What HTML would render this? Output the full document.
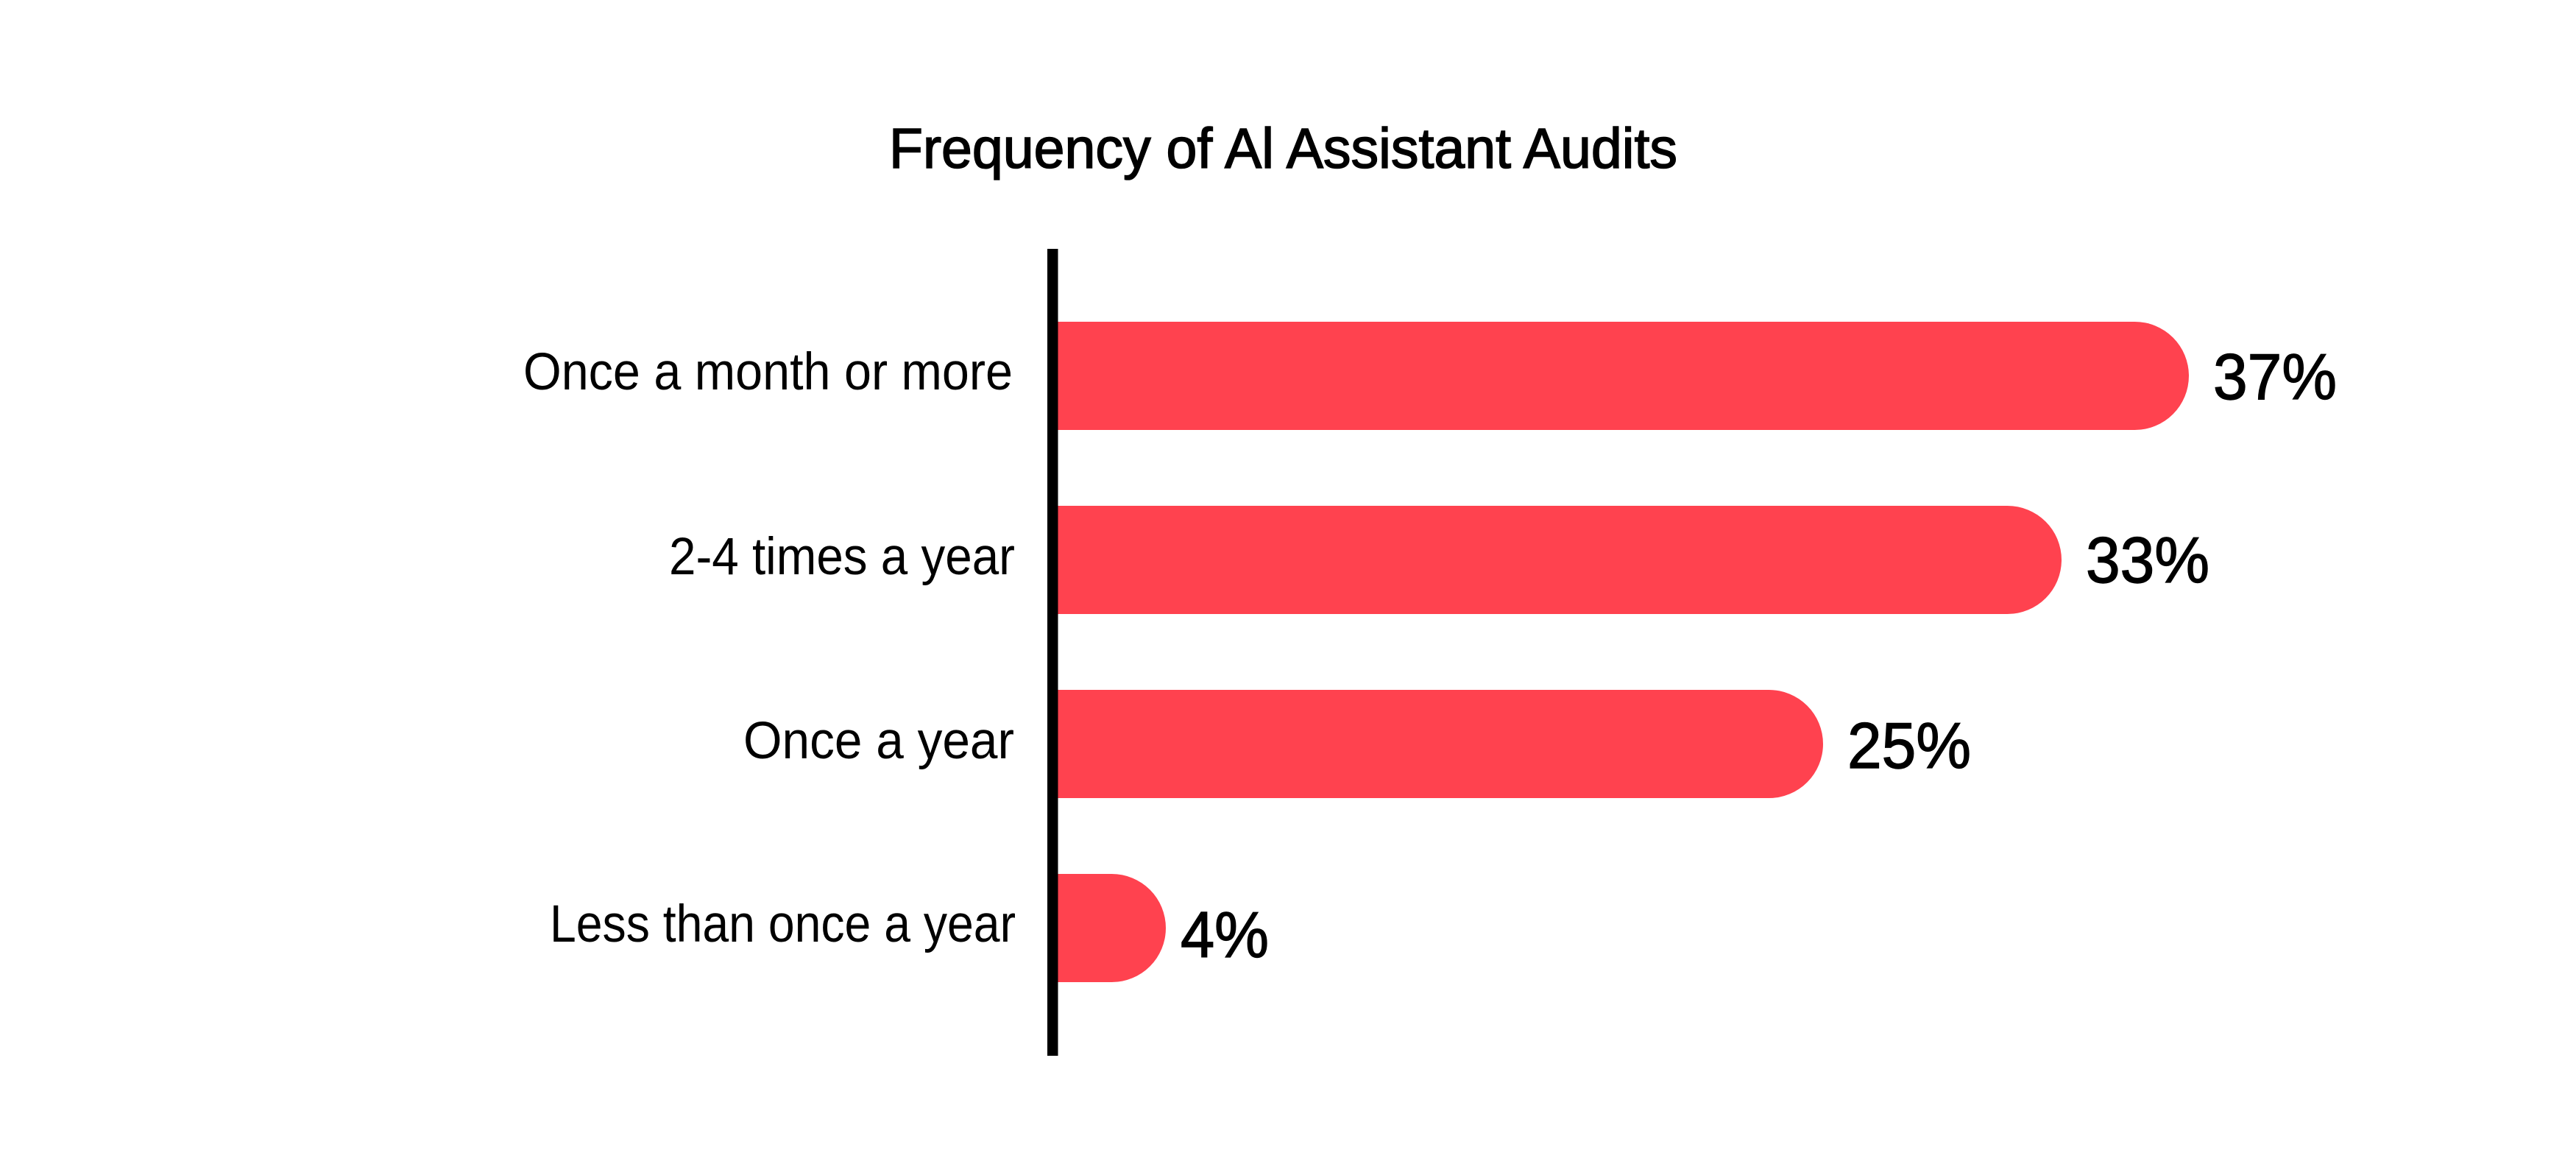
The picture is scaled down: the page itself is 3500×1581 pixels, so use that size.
<!DOCTYPE html>
<html>
<head>
<meta charset="utf-8">
<style>
  html, body { margin: 0; padding: 0; background: #ffffff; }
  body { width: 3500px; height: 1581px; overflow: hidden; }
  svg { display: block; }
  text { font-family: "Liberation Sans", "DejaVu Sans", sans-serif; fill: #000; }
</style>
</head>
<body>
<svg width="3500" height="1581" viewBox="0 0 3500 1581" xmlns="http://www.w3.org/2000/svg">
  <rect x="0" y="0" width="3500" height="1581" fill="#ffffff"/>

  <!-- Title -->
  <text x="1208" y="228" font-size="77" stroke="#000" stroke-width="1.6" textLength="1071" lengthAdjust="spacingAndGlyphs">Frequency of Al Assistant Audits</text>

  <!-- Bars -->
  <path d="M1437,437 H2900.5 A73.5,73.5 0 0 1 2900.5,584 H1437 Z" fill="#ff424f"/>
  <path d="M1437,687 H2727.5 A73.5,73.5 0 0 1 2727.5,834 H1437 Z" fill="#ff424f"/>
  <path d="M1437,937 H2403.5 A73.5,73.5 0 0 1 2403.5,1084 H1437 Z" fill="#ff424f"/>
  <path d="M1437,1187 H1510.5 A73.5,73.5 0 0 1 1510.5,1334 H1437 Z" fill="#ff424f"/>

  <!-- Axis line -->
  <rect x="1423" y="338" width="14.5" height="1096" fill="#000"/>

  <!-- Category labels -->
  <text x="711" y="529" font-size="71" textLength="665" lengthAdjust="spacingAndGlyphs">Once a month or more</text>
  <text x="909" y="780" font-size="71" textLength="470" lengthAdjust="spacingAndGlyphs">2-4 times a year</text>
  <text x="1010" y="1030" font-size="71" textLength="368" lengthAdjust="spacingAndGlyphs">Once a year</text>
  <text x="747" y="1279" font-size="71" textLength="633" lengthAdjust="spacingAndGlyphs">Less than once a year</text>

  <!-- Value labels -->
  <text x="3007" y="542" font-size="88" stroke="#000" stroke-width="1.4" textLength="168" lengthAdjust="spacingAndGlyphs">37%</text>
  <text x="2834" y="791" font-size="88" stroke="#000" stroke-width="1.4" textLength="168" lengthAdjust="spacingAndGlyphs">33%</text>
  <text x="2510" y="1043" font-size="88" stroke="#000" stroke-width="1.4" textLength="168" lengthAdjust="spacingAndGlyphs">25%</text>
  <text x="1604" y="1300" font-size="88" stroke="#000" stroke-width="1.4" textLength="120" lengthAdjust="spacingAndGlyphs">4%</text>
</svg>
</body>
</html>
